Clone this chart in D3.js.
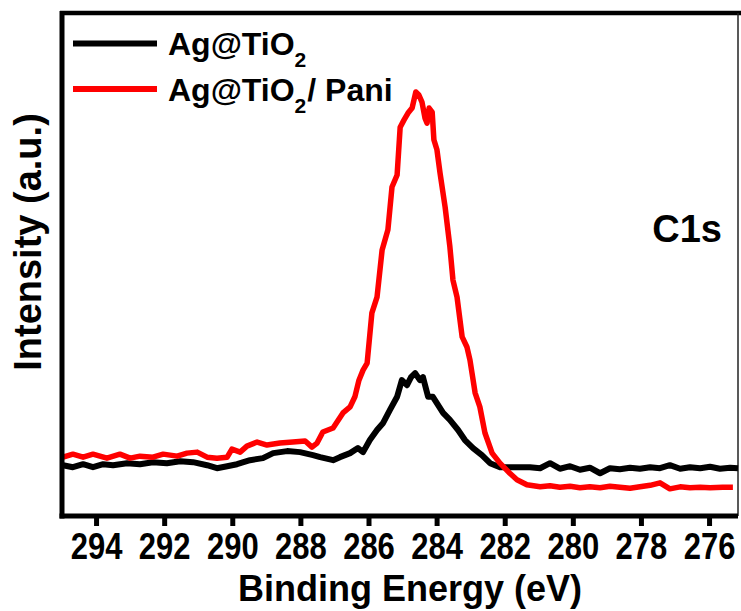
<!DOCTYPE html>
<html>
<head>
<meta charset="utf-8">
<script src="https://cdn.jsdelivr.net/npm/d3@7"></script>
<style>
  body { margin: 0; background: #fff; }
  text { font-family: "Liberation Sans", Arial, sans-serif; font-weight: bold; fill: #000; }
</style>
</head>
<body>
<script>
// binding energy (eV) and intensity (a.u.)
var blackEnergy = [294.97, 294.68, 294.38, 294.09, 293.79, 293.50, 293.09, 292.71, 292.33, 291.92,
    291.53, 291.15, 290.74, 290.45, 290.15, 289.86, 289.48, 289.10, 288.80, 288.39,
    288.01, 287.63, 287.42, 287.04, 286.84, 286.54, 286.31, 286.16, 285.96, 285.75,
    285.57, 285.37, 285.16, 285.02, 284.87, 284.75, 284.63, 284.49, 284.40, 284.25,
    284.11, 283.96, 283.81, 283.61, 283.37, 283.17, 282.93, 282.67, 282.43, 282.14,
    281.76, 281.26, 280.96, 280.67, 280.38, 280.08, 279.79, 279.50, 279.20, 278.91,
    278.62, 278.32, 278.03, 277.73, 277.44, 277.15, 276.85, 276.56, 276.26, 275.97,
    275.68, 275.38, 275.15];
var blackIntensity = [10.1, 9.7, 10.3, 9.7, 10.3, 10.1, 10.5, 10.3, 10.7, 10.5,
    10.9, 10.7, 10.1, 9.5, 9.9, 10.3, 11.1, 11.5, 12.5, 12.9,
    12.7, 12.1, 11.7, 11.1, 11.7, 12.5, 13.5, 12.7, 15.1, 17.1,
    18.5, 21.1, 23.7, 27.0, 26.0, 27.6, 28.4, 27.0, 27.6, 23.7,
    23.7, 22.1, 20.5, 19.1, 17.1, 15.1, 13.5, 12.1, 10.5, 9.7,
    9.7, 9.7, 9.5, 10.5, 9.4, 9.9, 9.2, 9.6, 8.5, 9.5,
    9.3, 9.6, 9.4, 9.7, 9.5, 10.1, 9.4, 9.7, 9.5, 9.8,
    9.4, 9.6, 9.5];

var redEnergy = [294.97, 294.68, 294.38, 294.09, 293.68, 293.30, 293.00, 292.71, 292.33, 292.03,
    291.62, 291.33, 291.03, 290.74, 290.45, 290.15, 290.01, 289.77, 289.57, 289.27,
    288.98, 288.60, 288.22, 287.86, 287.66, 287.51, 287.34, 287.04, 286.75, 286.54,
    286.40, 286.28, 286.16, 286.04, 285.90, 285.75, 285.60, 285.43, 285.31, 285.16,
    285.07, 284.96, 284.84, 284.72, 284.61, 284.52, 284.43, 284.34, 284.28, 284.22,
    284.13, 284.08, 283.99, 283.90, 283.75, 283.61, 283.52, 283.40, 283.25, 283.11,
    283.02, 282.96, 282.87, 282.73, 282.58, 282.37, 282.14, 281.85, 281.64, 281.35,
    280.96, 280.67, 280.38, 280.08, 279.79, 279.50, 279.20, 278.91, 278.62, 278.32,
    278.03, 277.73, 277.44, 277.15, 276.85, 276.56, 276.26, 275.97, 275.60, 275.30];
var redIntensity = [11.7, 12.3, 11.7, 12.3, 11.5, 12.3, 11.5, 11.9, 11.7, 12.3,
    11.9, 12.5, 12.7, 11.7, 11.5, 11.7, 13.3, 12.7, 13.9, 14.7,
    14.1, 14.5, 14.7, 14.9, 13.7, 14.5, 16.7, 17.5, 20.5, 21.7,
    23.7, 27.0, 29.0, 30.4, 40.4, 43.5, 52.9, 56.9, 65.4, 67.8,
    77.3, 78.7, 80.1, 81.1, 84.3, 83.7, 82.3, 79.1, 78.1, 81.1,
    80.3, 74.8, 72.8, 68.2, 61.4, 53.5, 46.9, 43.5, 35.6, 33.6,
    31.0, 28.4, 24.5, 21.7, 16.5, 12.5, 10.5, 8.5, 7.2, 6.2,
    5.8, 6.0, 5.7, 5.9, 5.6, 5.8, 5.6, 5.9, 5.7, 5.5,
    5.8, 6.1, 6.6, 5.4, 5.8, 5.6, 5.7, 5.6, 5.7, 5.7];

var energyTicks = [294, 292, 290, 288, 286, 284, 282, 280, 278, 276];
var seriesNames = ["Ag@TiO", "Ag@TiO"];
var seriesColors = ["#000000", "#ff0000"];

var margin = {top: 13, right: 3, bottom: 95, left: 62},
    width = 741 - margin.left - margin.right,
    height = 611 - margin.top - margin.bottom;

var x = d3.scaleLinear()
    .domain([295, 275.15])
    .range([0, width]);

var y = d3.scaleLinear()
    .domain([0, 100])
    .range([height, 0]);

var chart = d3.select('body')
    .append('svg')
    .attr('width', 741)
    .attr('height', 611);

var main = chart.append('g')
    .attr('transform', 'translate(' + margin.left + ',' + margin.top + ')');

// frame: thick top, thin right edge
main.append('line')
    .attr('x1', -2).attr('x2', width + 3)
    .attr('y1', 0).attr('y2', 0)
    .attr('stroke', '#000').attr('stroke-width', 4.5);
main.append('line')
    .attr('x1', width).attr('x2', width)
    .attr('y1', 0).attr('y2', height)
    .attr('stroke', '#222').attr('stroke-width', 1.5);

var line = d3.line()
    .x(function (d) { return x(d[0]); })
    .y(function (d) { return y(d[1]); });

var blackData = blackEnergy.map(function (e, i) { return [e, blackIntensity[i]]; });
var redData = redEnergy.map(function (e, i) { return [e, redIntensity[i]]; });

main.append('path')
    .datum(blackData)
    .attr('d', line)
    .attr('fill', 'none')
    .attr('stroke', seriesColors[0])
    .attr('stroke-width', 6)
    .attr('stroke-linejoin', 'round');

main.append('path')
    .datum(redData)
    .attr('d', line)
    .attr('fill', 'none')
    .attr('stroke', seriesColors[1])
    .attr('stroke-width', 5.5)
    .attr('stroke-linejoin', 'round');

// axes
var xAxis = main.append('g')
    .attr('transform', 'translate(0,' + (height) + ')')
    .call(d3.axisBottom(x).tickValues(energyTicks).tickSize(10).tickSizeOuter(0));
xAxis.select('.domain').attr('stroke-width', 5).attr('d', 'M-2.5,0H' + width);
xAxis.selectAll('.tick line').attr('stroke-width', 5);
xAxis.selectAll('.tick text')
    .attr('font-size', 31)
    .attr('transform', 'scale(1,1.22)')
    .attr('y', 43 / 1.22)
    .attr('dy', 0)
    .style('font-family', '"Liberation Sans", Arial, sans-serif')
    .style('font-weight', 'bold');

var yAxis = main.append('g')
    .call(d3.axisLeft(y).ticks(0).tickSizeOuter(0));
yAxis.select('.domain').attr('stroke-width', 5).attr('d', 'M0,-2H0V' + (height + 2.5));

main.append('text')
    .attr('x', (238 + 582) / 2 - margin.left)
    .attr('y', 601 - margin.top)
    .attr('text-anchor', 'middle')
    .attr('font-size', 36)
    .text('Binding Energy (eV)');

main.append('text')
    .attr('transform', 'rotate(-90)')
    .attr('x', -(242 - margin.top))
    .attr('y', 41 - margin.left)
    .attr('text-anchor', 'middle')
    .attr('font-size', 38)
    .text('Intensity (a.u.)');

main.append('text')
    .attr('x', 722 - margin.left)
    .attr('y', 242 - margin.top)
    .attr('text-anchor', 'end')
    .attr('font-size', 38)
    .text('C1s');

// legend
var legendY = [43.5, 89];
var legend = chart.append('g');
legendY.forEach(function (ly, i) {
    legend.append('line')
        .attr('x1', 73).attr('x2', 157)
        .attr('y1', ly).attr('y2', ly)
        .attr('stroke', seriesColors[i])
        .attr('stroke-width', 6);
    var t = legend.append('text')
        .attr('x', 168)
        .attr('y', ly + 11.5)
        .attr('font-size', 32);
    t.append('tspan').text(seriesNames[i]);
    t.append('tspan').attr('font-size', 21).attr('dy', 12).text('2');
    if (i === 1) {
        t.append('tspan').attr('dy', -12).attr('dx', 1).text('/ Pani');
    }
});
</script>
</body>
</html>
